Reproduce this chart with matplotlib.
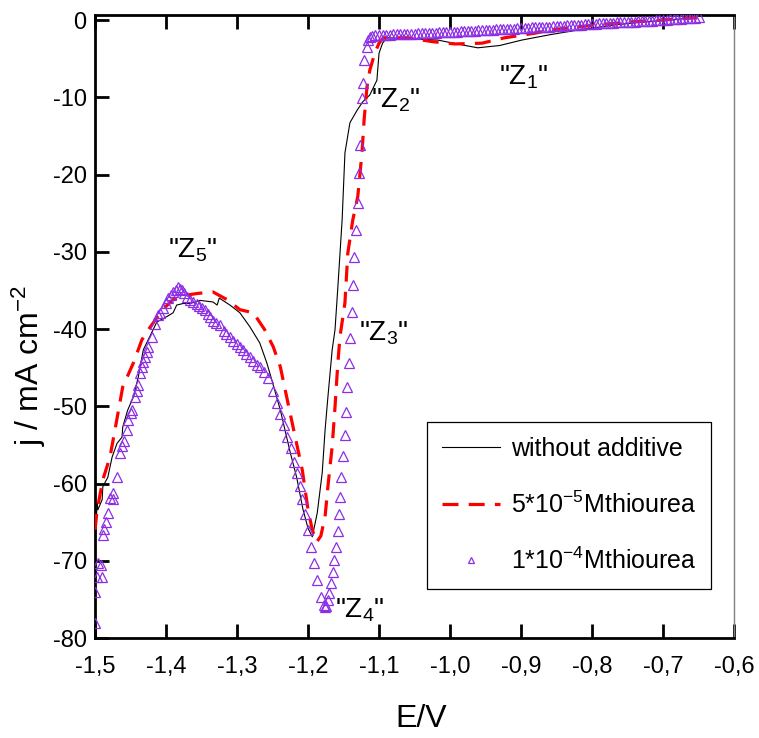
import matplotlib
matplotlib.use("Agg")
import matplotlib.pyplot as plt
from matplotlib.ticker import FixedLocator, FuncFormatter

# ---------------------------------------------------------------
# data (E in V, j in mA cm-2)
# ---------------------------------------------------------------

# without additive (thin black line)
black_E = [-1.500, -1.499, -1.497, -1.496, -1.490, -1.489, -1.482, -1.476, -1.469, -1.462,
           -1.461, -1.454, -1.446, -1.439, -1.432, -1.423, -1.413, -1.405, -1.399, -1.390,
           -1.385, -1.376, -1.366, -1.352, -1.334, -1.328, -1.325, -1.310, -1.296, -1.282,
           -1.268, -1.258, -1.251, -1.239, -1.225, -1.216, -1.207, -1.200, -1.194, -1.187,
           -1.180, -1.176, -1.172, -1.166, -1.162, -1.158, -1.152, -1.148, -1.141, -1.131,
           -1.123, -1.113, -1.103, -1.100, -1.095, -1.089, -1.060, -1.017, -0.990, -0.961,
           -0.930, -0.899, -0.859, -0.820, -0.765, -0.720, -0.680, -0.652]
black_j = [-70.0, -66.0, -62.5, -63.4, -62.1, -60.4, -59.2, -56.6, -54.8, -54.0,
           -52.7, -50.5, -48.8, -46.2, -42.7, -41.0, -39.1, -38.7, -38.4, -37.9,
           -36.9, -36.7, -36.7, -36.3, -36.5, -36.9, -36.0, -36.9, -37.9, -39.7,
           -41.8, -44.4, -46.6, -50.5, -56.0, -59.2, -63.4, -65.8, -66.9, -63.8,
           -58.6, -53.1, -48.8, -42.7, -40.1, -34.6, -25.9, -17.2, -13.3, -11.7,
           -10.6, -9.7, -7.8, -4.3, -3.0, -2.3, -2.4, -2.6, -3.1, -3.6,
           -3.3, -2.6, -1.9, -1.3, -0.6, -0.2, 0.1, 0.3]

# 5*10^-5 M thiourea (red dashed)
red_E = [-1.500, -1.497, -1.489, -1.479, -1.472, -1.461, -1.446, -1.434, -1.425, -1.418,
         -1.405, -1.390, -1.370, -1.356, -1.334, -1.314, -1.296, -1.277, -1.261, -1.249,
         -1.239, -1.225, -1.208, -1.200, -1.194, -1.188, -1.182, -1.176, -1.172, -1.166,
         -1.162, -1.158, -1.155, -1.148, -1.144, -1.137, -1.130, -1.124, -1.121, -1.117,
         -1.113, -1.106, -1.100, -1.094, -1.059, -1.025, -0.993, -0.955, -0.923, -0.880,
         -0.859, -0.831, -0.790, -0.740, -0.700, -0.652]
red_j = [-66.0, -63.4, -59.5, -56.6, -53.1, -47.5, -44.4, -41.4, -40.1, -39.2,
         -37.5, -36.2, -35.6, -35.4, -35.2, -36.2, -37.5, -37.9, -40.1, -42.3,
         -44.9, -51.0, -58.3, -63.4, -66.0, -67.6, -66.8, -64.3, -60.4, -55.2,
         -50.1, -44.4, -41.0, -36.6, -30.2, -25.9, -22.9, -17.2, -12.9, -8.7,
         -6.5, -4.3, -3.0, -2.3, -2.3, -2.8, -3.1, -3.0, -2.3, -1.7,
         -1.3, -1.0, -0.6, -0.2, 0.0, 0.3]

# 1*10^-4 M thiourea (open triangles)
tri_E = [-1.500, -1.500, -1.497, -1.496, -1.490, -1.492, -1.489, -1.487, -1.485, -1.482,
         -1.479, -1.475, -1.474, -1.469, -1.465, -1.462, -1.459, -1.455, -1.453, -1.450,
         -1.448, -1.444, -1.441, -1.439, -1.437, -1.434, -1.432, -1.430, -1.427, -1.425,
         -1.420, -1.415, -1.411, -1.408, -1.404, -1.400, -1.397, -1.393, -1.390, -1.386,
         -1.383, -1.380, -1.378, -1.374, -1.371, -1.366, -1.362, -1.357, -1.353, -1.350,
         -1.345, -1.341, -1.338, -1.334, -1.329, -1.324, -1.319, -1.315, -1.310, -1.305,
         -1.300, -1.296, -1.291, -1.287, -1.282, -1.277, -1.272, -1.268, -1.262, -1.256,
         -1.250, -1.244, -1.239, -1.234, -1.229, -1.224, -1.220, -1.216, -1.212, -1.208,
         -1.204, -1.200, -1.196, -1.192, -1.187, -1.182, -1.178, -1.176, -1.174, -1.172,
         -1.170, -1.168, -1.165, -1.163, -1.161, -1.158, -1.157, -1.155, -1.153, -1.151,
         -1.148, -1.146, -1.145, -1.142, -1.141, -1.138, -1.137, -1.135, -1.132, -1.130,
         -1.128, -1.127, -1.124, -1.123, -1.121, -1.117, -1.115, -1.113,
         -1.110, -1.105, -1.100, -1.095, -1.090, -1.085, -1.080, -1.075, -1.070, -1.065,
         -1.060, -1.055, -1.050, -1.045, -1.040, -1.035, -1.030, -1.025, -1.020, -1.015,
         -1.010, -1.005, -1.000, -0.995, -0.990, -0.985, -0.980, -0.975, -0.970, -0.965,
         -0.960, -0.955, -0.950, -0.945, -0.940, -0.935, -0.930, -0.925, -0.920, -0.915,
         -0.910, -0.905, -0.900, -0.895, -0.890, -0.885, -0.880, -0.875, -0.870, -0.865,
         -0.860, -0.855, -0.850, -0.845, -0.840, -0.835, -0.830, -0.825, -0.820, -0.815,
         -0.810, -0.805, -0.800, -0.795, -0.790, -0.785, -0.780, -0.775, -0.770, -0.765,
         -0.760, -0.755, -0.750, -0.745, -0.740, -0.735, -0.730, -0.725, -0.720, -0.715,
         -0.710, -0.705, -0.700, -0.695, -0.690, -0.685, -0.680, -0.675, -0.670, -0.665,
         -0.660, -0.655, -0.650]
tri_j = [-78.1, -74.1, -72.1, -70.3, -72.1, -70.6, -66.7, -65.9, -65.0, -63.8,
         -61.9, -61.2, -62.0, -59.2, -56.1, -55.2, -54.5, -53.1, -51.8, -50.9,
         -50.5, -48.8, -48.0, -47.2, -45.7, -44.9, -44.3, -43.6, -43.0, -42.3,
         -41.0, -39.3, -38.2, -37.9, -37.3, -36.6, -36.0, -35.6, -35.2, -34.9,
         -34.5, -34.8, -35.0, -35.4, -35.8, -36.2, -36.5, -36.8, -37.0, -37.3,
         -37.6, -38.0, -38.4, -38.9, -39.2, -39.5, -40.3, -40.6, -41.0, -41.5,
         -41.9, -42.3, -42.7, -43.2, -43.6, -44.2, -44.6, -44.9, -45.6, -46.4,
         -48.0, -49.6, -51.0, -52.4, -54.0, -55.4, -57.2, -58.6, -60.3, -62.0,
         -63.9, -66.0, -68.2, -70.3, -72.5, -74.7, -75.7, -76.0, -75.9, -75.1,
         -74.2, -72.9, -71.4, -69.9, -68.2, -66.2, -63.9, -61.7, -59.1, -56.5,
         -53.7, -50.7, -47.5, -44.4, -41.2, -37.8, -34.3, -30.7, -27.2, -23.7,
         -19.8, -16.2, -10.1, -8.2, -5.2, -3.5, -2.6, -2.2,
         -2.10, -2.00, -1.95, -1.93, -1.91, -1.89, -1.87, -1.85, -1.83, -1.81,
         -1.79, -1.77, -1.75, -1.73, -1.71, -1.69, -1.67, -1.65, -1.62, -1.60,
         -1.58, -1.56, -1.55, -1.52, -1.50, -1.47, -1.45, -1.42, -1.40, -1.37,
         -1.35, -1.32, -1.30, -1.27, -1.25, -1.22, -1.20, -1.17, -1.15, -1.12,
         -1.10, -1.07, -1.05, -1.02, -1.00, -0.97, -0.95, -0.92, -0.90, -0.87,
         -0.85, -0.82, -0.80, -0.77, -0.74, -0.71, -0.68, -0.65, -0.62, -0.59,
         -0.56, -0.53, -0.50, -0.47, -0.45, -0.42, -0.40, -0.37, -0.35, -0.32,
         -0.30, -0.27, -0.25, -0.22, -0.20, -0.17, -0.15, -0.12, -0.10, -0.07,
         -0.05, -0.02, 0.00, 0.03, 0.07, 0.10, 0.14, 0.17, 0.21, 0.24,
         0.28, 0.31, 0.35]

x_ticks = [-1.5, -1.4, -1.3, -1.2, -1.1, -1.0, -0.9, -0.8, -0.7, -0.6]
y_ticks = [0, -10, -20, -30, -40, -50, -60, -70, -80]

labels = ["without additive", "5*10$^{-5}$Mthiourea", "1*10$^{-4}$Mthiourea"]

# region labels: (text, E, j)
zones = [
    ('"Z$_1$"', -0.897, -7.4),
    ('"Z$_2$"', -1.077, -10.4),
    ('"Z$_3$"', -1.093, -40.5),
    ('"Z$_4$"', -1.128, -76.4),
    ('"Z$_5$"', -1.363, -29.8),
]

# ---------------------------------------------------------------
# style
# ---------------------------------------------------------------
plt.rcParams["font.family"] = ["Liberation Sans", "DejaVu Sans"]
plt.rcParams["mathtext.fontset"] = "custom"
plt.rcParams["mathtext.rm"] = "Liberation Sans"
plt.rcParams["mathtext.it"] = "Liberation Sans:italic"
plt.rcParams["mathtext.default"] = "regular"
plt.rcParams["axes.unicode_minus"] = False

fig = plt.figure(figsize=(7.59, 7.38), dpi=100)
ax = fig.add_axes([0.1252, 0.1355, 0.8419, 0.8442])

ax.plot(black_E, black_j, color="black", lw=0.8, label=labels[0], zorder=2)
ax.plot(red_E, red_j, color="#ff0000", lw=2.3, linestyle=(0, (5, 3.2)),
        label=labels[1], zorder=3)
ax.plot(tri_E, tri_j, linestyle="none", marker="^", markersize=6.8,
        markerfacecolor="none", markeredgecolor="#8c2ee6", markeredgewidth=0.9,
        label=labels[2], zorder=4)

for txt, e, j in zones:
    ax.text(e, j, txt, fontsize=20, ha="center", va="center", zorder=5)

ax.set_xlim(-1.5, -0.6)
ax.set_ylim(-80, 0.65)

ax.xaxis.set_major_locator(FixedLocator(x_ticks))
ax.yaxis.set_major_locator(FixedLocator(y_ticks))
ax.xaxis.set_major_formatter(FuncFormatter(lambda v, p: f"{v:.1f}".replace(".", ",")))
ax.yaxis.set_major_formatter(FuncFormatter(lambda v, p: f"{v:.0f}"))

ax.tick_params(axis="both", direction="in", length=10, width=2, labelsize=17)
ax.tick_params(axis="x", pad=13, top=True)
ax.tick_params(axis="y", pad=6, right=False)

for side in ["left", "bottom", "top"]:
    ax.spines[side].set_linewidth(2)
ax.spines["right"].set_linewidth(1)
ax.spines["right"].set_color("#808080")

ax.set_xlabel("E/V", fontsize=23)
ax.xaxis.set_label_coords(0.51, -0.106)
ax.set_ylabel("j / mA cm$^{-2}$", fontsize=23)
ax.yaxis.set_label_coords(-0.073, 0.437)

leg = ax.legend(loc="lower left", bbox_to_anchor=(0.5196, 0.0787), fontsize=18,
                frameon=True, fancybox=False, edgecolor="black", framealpha=1,
                handlelength=2.3, handletextpad=0.45, labelspacing=1.2,
                borderpad=0.6, borderaxespad=0, markerscale=0.55)
leg.get_frame().set_linewidth(0.9)

fig.savefig("out.png", dpi=100)
